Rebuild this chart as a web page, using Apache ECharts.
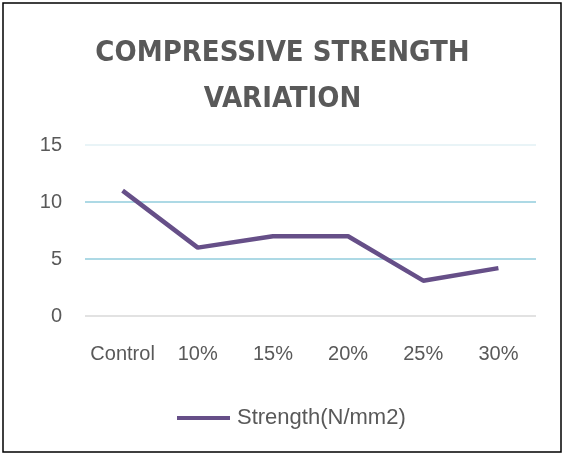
<!DOCTYPE html>
<html>
<head>
<meta charset="utf-8">
<script src="https://cdn.jsdelivr.net/npm/echarts@6/dist/echarts.min.js"></script>
<style>
html,body{margin:0;padding:0;background:#fff;}
#c{width:565px;height:455px;}
</style>
</head>
<body>
<div id="c"></div>
<script>
const categories = ['Control', '10%', '15%', '20%', '25%', '30%'];
const strength = [11, 6, 7, 7, 3.1, 4.2];
const seriesName = 'Strength(N/mm2)';
const titleText = 'COMPRESSIVE STRENGTH\nVARIATION';

const chart = echarts.init(document.getElementById('c'), null, {renderer: 'canvas'});
chart.setOption({
  backgroundColor: '#fff',
  animation: false,
  graphic: [{
    type: 'rect', shape: {x: 3, y: 3, width: 558, height: 449},
    style: {fill: 'none', stroke: '#000', lineWidth: 1.5}, z: 100
  }],
  title: {
    text: titleText, left: 'center', top: 25,
    textStyle: {fontFamily: '"DejaVu Sans Condensed", sans-serif', fontWeight: 'bold', fontSize: 29, lineHeight: 46, color: '#595959'}
  },
  grid: {left: 85, right: 29, top: 145, bottom: 139},
  xAxis: {
    type: 'category', data: categories, boundaryGap: true,
    axisLine: {show: false}, axisTick: {show: false},
    axisLabel: {interval: 0, margin: 28, fontSize: 20, color: '#595959', fontFamily: '"Liberation Sans", Arial, sans-serif'}
  },
  yAxis: {
    type: 'value', min: 0, max: 15, interval: 5,
    axisLine: {show: false}, axisTick: {show: false},
    axisLabel: {margin: 23, fontSize: 20, color: '#595959', fontFamily: '"Liberation Sans", Arial, sans-serif'},
    splitLine: {lineStyle: {color: ['#d9d9d9', '#92cddc', '#92cddc', '#e2f0f4'], width: 1.5}}
  },
  legend: {
    data: [seriesName], bottom: 21, left: 172,
    itemWidth: 53, itemHeight: 4, itemGap: 10, icon: 'rect',
    textStyle: {fontSize: 22, color: '#595959', fontFamily: '"Liberation Sans", Arial, sans-serif', padding: [0,0,0,2]}
  },
  series: [{
    name: seriesName, type: 'line', data: strength,
    symbol: 'none', lineStyle: {color: '#664f88', width: 4.5},
    itemStyle: {color: '#664f88'}
  }]
});
</script>
</body>
</html>
